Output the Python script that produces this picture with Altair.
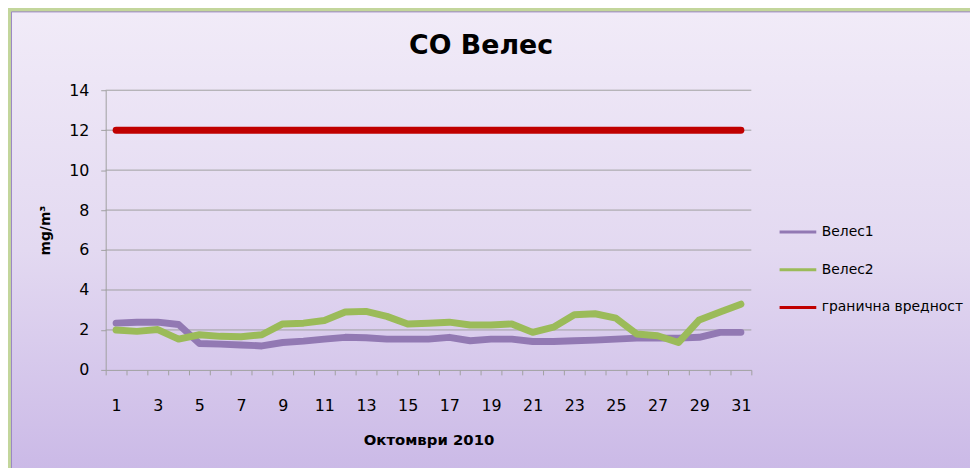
import altair as alt
import pandas as pd

days = list(range(1, 32))
veles1 = [2.34, 2.39, 2.39, 2.27, 1.32, 1.29, 1.25, 1.20, 1.37, 1.44, 1.54, 1.63, 1.61, 1.54, 1.54,
          1.54, 1.63, 1.46, 1.54, 1.54, 1.42, 1.42, 1.46, 1.49, 1.54, 1.59, 1.59, 1.59, 1.63, 1.88, 1.88]
veles2 = [2.00, 1.93, 2.02, 1.54, 1.76, 1.68, 1.66, 1.76, 2.30, 2.34, 2.47, 2.90, 2.93, 2.68, 2.30,
          2.34, 2.39, 2.25, 2.25, 2.30, 1.88, 2.14, 2.76, 2.81, 2.59, 1.80, 1.71, 1.37, 2.50, 2.90, 3.29]
limit = [12] * 31
series_names = ["Велес1", "Велес2", "гранична вредност"]
series_colors = ["#9279b3", "#9bbb59", "#c00000"]
y_ticks = [0, 2, 4, 6, 8, 10, 12, 14]

rows = []
for name, vals in zip(series_names, [veles1, veles2, limit]):
    for d, v in zip(days, vals):
        rows.append({"day": d, "value": v, "series": name})
df = pd.DataFrame(rows)

FONT = "DejaVu Sans"

bg = alt.Chart(pd.DataFrame({"a": [0]})).mark_rect(
    fill=alt.LinearGradient(
        gradient="linear",
        stops=[alt.GradientStop(color="#f1ebf8", offset=0),
               alt.GradientStop(color="#e3d9f1", offset=0.5),
               alt.GradientStop(color="#c9b7e6", offset=1)],
        x1=0, x2=0, y1=0, y2=1),
    stroke="#9a86c4", strokeWidth=1,
).encode(
    x=alt.value(-95), x2=alt.value(900), y=alt.value(-79), y2=alt.value(400)
)

grid = alt.Chart(pd.DataFrame({"g": y_ticks[1:]})).mark_rule(
    color="#a0a0a0", strokeWidth=1
).encode(y=alt.Y("g:Q", scale=alt.Scale(domain=[0, 14])))

x_enc = alt.X("day:O", bandPosition=0.5,
              scale=alt.Scale(type="band", paddingInner=0, paddingOuter=0),
              axis=alt.Axis(title="Октомври 2010", labelAngle=0, tickBand="extent",
                            labelExpr="datum.value % 2 == 1 ? datum.label : ''",
                            labelFontSize=16, labelPadding=23, tickSize=5,
                            titleFontSize=15, titleFontWeight="bold", titlePadding=19,
                            domainColor="#a0a0a0", tickColor="#a0a0a0", grid=False, zindex=1))
y_enc = alt.Y("value:Q", scale=alt.Scale(domain=[0, 14]),
              axis=alt.Axis(title="mg/m³", values=y_ticks,
                            labelFontSize=16, labelPadding=12, tickSize=5,
                            titleFontSize=14, titleFontWeight="bold", titlePadding=16,
                            domainColor="#a0a0a0", tickColor="#a0a0a0", grid=False, zindex=1))

lines = alt.Chart(df).mark_line(strokeWidth=7, strokeCap="round", strokeJoin="round").encode(
    x=x_enc,
    y=y_enc,
    color=alt.Color("series:N",
                    scale=alt.Scale(domain=series_names, range=series_colors),
                    sort=series_names,
                    legend=alt.Legend(title=None, orient="none", legendX=678, legendY=123,
                                      symbolType="stroke", symbolSize=1369, symbolStrokeWidth=3,
                                      labelFontSize=14, labelOffset=4, rowPadding=11,
                                      labelLimit=300)),
    order=alt.Order("series:N"),
)

chart = alt.layer(bg, grid, lines).properties(
    width=651, height=282,
    autosize=alt.AutoSizeParams(type="none"),
    padding={"left": 98.5, "top": 81, "right": 220.5, "bottom": 97},
    background="#c3d69b",
    title=alt.TitleParams("CO Велес", fontSize=27, fontWeight="bold", font=FONT,
                          anchor="middle", frame="group", dx=53, baseline="bottom", offset=-76),
).configure(font=FONT).configure_axis(
    labelColor="#000000", titleColor="#000000", labelFont=FONT, titleFont=FONT
).configure_legend(labelColor="#000000", labelFont=FONT).configure_view(strokeWidth=0)

chart.save("out.html", embed_options={"renderer": "svg", "actions": False})
